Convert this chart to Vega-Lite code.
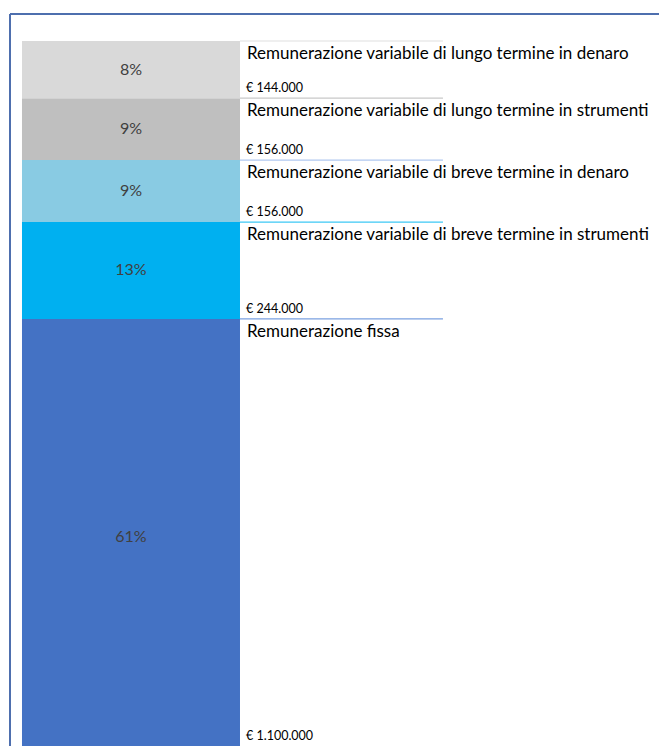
{
  "$schema": "https://vega.github.io/schema/vega-lite/v6.json",
  "width": 649,
  "height": 732,
  "autosize": {"type": "none"},
  "padding": {"left": 10, "top": 14, "right": 0, "bottom": 0},
  "background": "white",
  "config": {
    "view": {"stroke": null},
    "font": "Lato"
  },
  "data": {
    "values": [
      {"cat": "Remunerazione fissa", "value": 1100000, "pct": "61%", "ord": 1},
      {"cat": "Remunerazione variabile di breve termine in strumenti", "value": 244000, "pct": "13%", "ord": 2},
      {"cat": "Remunerazione variabile di breve termine in denaro", "value": 156000, "pct": "9%", "ord": 3},
      {"cat": "Remunerazione variabile di lungo termine in strumenti", "value": 156000, "pct": "9%", "ord": 4},
      {"cat": "Remunerazione variabile di lungo termine in denaro", "value": 144000, "pct": "8%", "ord": 5}
    ]
  },
  "transform": [
    {"stack": "value", "groupby": [], "sort": [{"field": "ord", "order": "ascending"}], "as": ["y0", "y1"]},
    {"calculate": "(datum.y0 + datum.y1) / 2", "as": "ymid"},
    {"calculate": "'€ ' + replace(format(datum.value, ',.0f'), /,/g, '.')", "as": "vlabel"}
  ],
  "encoding": {
    "y": {"type": "quantitative", "scale": {"domain": [24200, 1868000], "zero": false, "nice": false, "clamp": true}, "axis": null}
  },
  "layer": [
    {
      "mark": {"type": "bar"},
      "encoding": {
        "x": {"datum": 0, "type": "quantitative", "scale": {"domain": [-0.055, 2.922], "nice": false, "zero": false}, "axis": null},
        "x2": {"datum": 1},
        "y": {"field": "y0", "type": "quantitative"},
        "y2": {"field": "y1"},
        "color": {
          "field": "cat", "type": "nominal", "legend": null,
          "scale": {
            "domain": ["Remunerazione fissa", "Remunerazione variabile di breve termine in strumenti", "Remunerazione variabile di breve termine in denaro", "Remunerazione variabile di lungo termine in strumenti", "Remunerazione variabile di lungo termine in denaro"],
            "range": ["#4472c4", "#00b0f0", "#89cbe3", "#bfbfbf", "#d9d9d9"]
          }
        }
      }
    },
    {
      "mark": {"type": "rule", "strokeWidth": 1.2},
      "encoding": {
        "x": {"datum": 1, "type": "quantitative"},
        "x2": {"datum": 1.931},
        "y": {"field": "y1", "type": "quantitative"},
        "stroke": {
          "field": "cat", "type": "nominal", "legend": null,
          "scale": {
            "domain": ["Remunerazione fissa", "Remunerazione variabile di breve termine in strumenti", "Remunerazione variabile di breve termine in denaro", "Remunerazione variabile di lungo termine in strumenti", "Remunerazione variabile di lungo termine in denaro"],
            "range": ["#7aa0e0", "#3cc8f5", "#b0c8f0", "#c8c8c8", "#e0e0e0"]
          }
        }
      }
    },
    {
      "mark": {"type": "rule", "strokeWidth": 2, "color": "#4e6fae"},
      "encoding": {
        "x": {"datum": -0.055, "type": "quantitative"},
        "x2": {"datum": 2.922},
        "y": {"datum": 1868000, "type": "quantitative"}
      }
    },
    {
      "mark": {"type": "rule", "strokeWidth": 2, "color": "#4e6fae"},
      "encoding": {
        "x": {"datum": -0.055, "type": "quantitative"},
        "y": {"datum": 24200, "type": "quantitative"},
        "y2": {"datum": 1868000}
      }
    },
    {
      "mark": {"type": "text", "align": "left", "baseline": "alphabetic", "dx": 7, "dy": 18, "fontSize": 17, "color": "#000000"},
      "encoding": {
        "x": {"datum": 1, "type": "quantitative"},
        "y": {"field": "y1", "type": "quantitative"},
        "text": {"field": "cat"}
      }
    },
    {
      "mark": {"type": "text", "align": "left", "baseline": "alphabetic", "dx": 6, "dy": -6, "fontSize": 12.5, "color": "#000000"},
      "encoding": {
        "x": {"datum": 1, "type": "quantitative"},
        "y": {"field": "y0", "type": "quantitative"},
        "text": {"field": "vlabel"}
      }
    },
    {
      "mark": {"type": "text", "align": "center", "baseline": "middle", "fontSize": 16, "color": "#404040"},
      "encoding": {
        "x": {"datum": 0.5, "type": "quantitative"},
        "y": {"field": "ymid", "type": "quantitative"},
        "text": {"field": "pct"}
      }
    }
  ]
}
